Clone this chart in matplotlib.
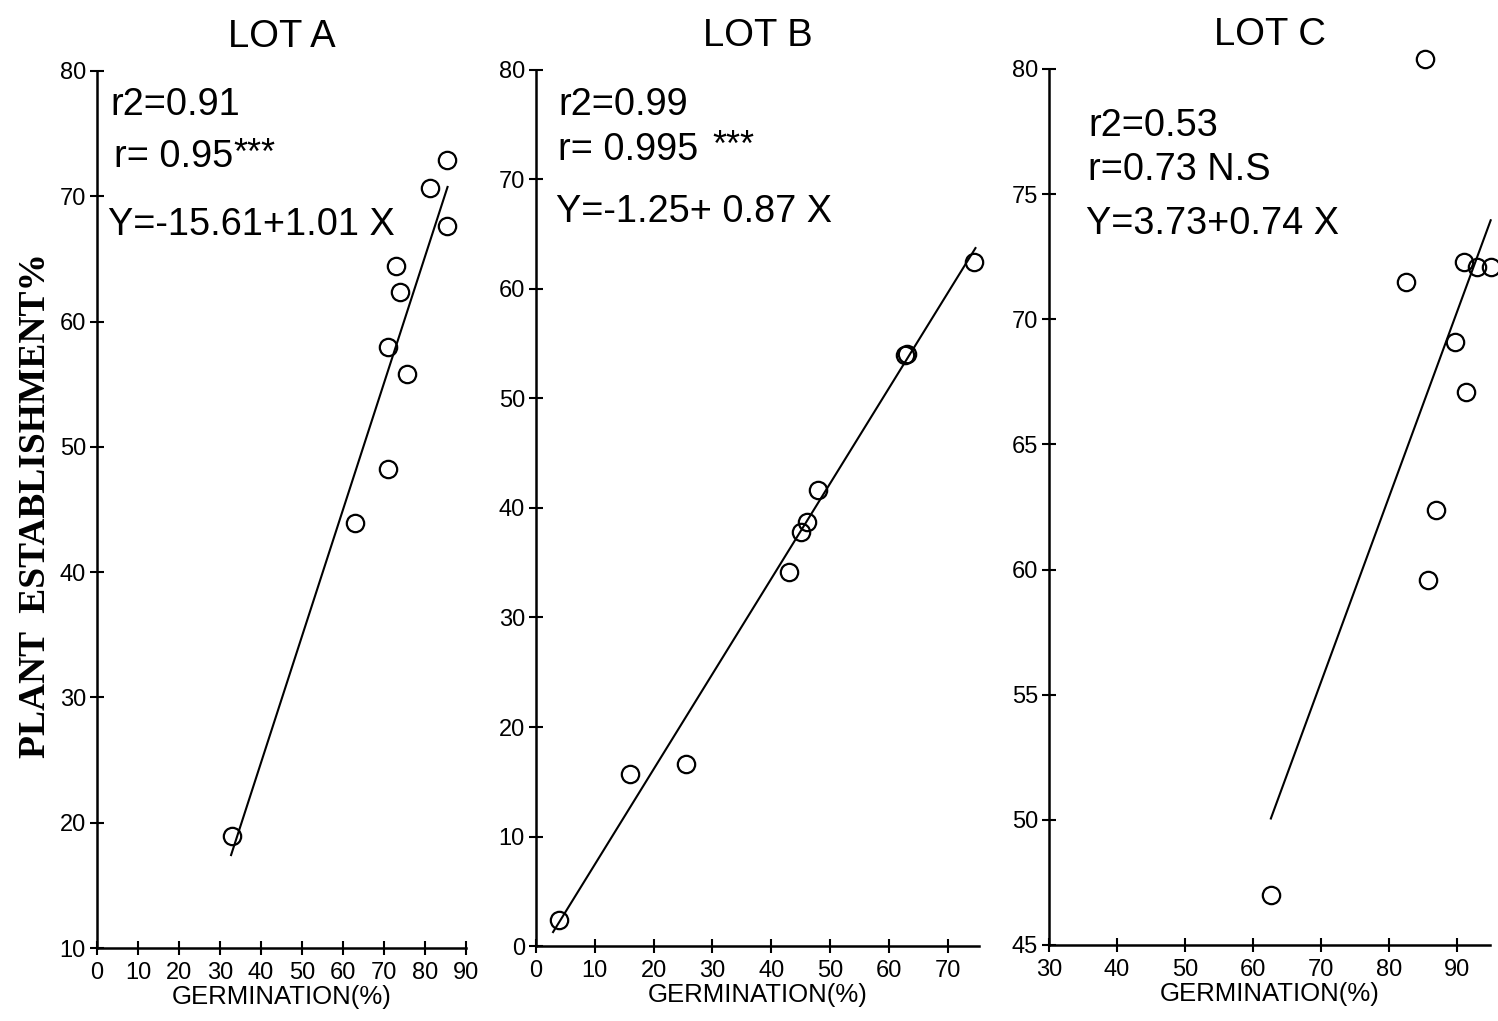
import numpy as np
import matplotlib.pyplot as plt

plt.rcParams["font.family"] = ["Liberation Sans", "DejaVu Sans"]

# Germination (%) vs plant establishment (%) for three seed lots
lot_a_germ = [32.9, 62.9, 71.0, 71.0, 75.6, 72.9, 73.9, 81.2, 85.4, 85.4]
lot_a_estab = [18.9, 43.9, 48.2, 58.0, 55.8, 64.4, 62.4, 70.7, 72.9, 67.6]

lot_b_germ = [3.9, 16.0, 25.5, 43.0, 45.1, 46.1, 48.0, 62.7, 63.0, 74.5]
lot_b_estab = [2.4, 15.7, 16.6, 34.2, 37.8, 38.7, 41.6, 54.0, 54.1, 62.5]

lot_c_germ = [85.3, 82.4, 91.0, 92.9, 94.9, 89.7, 91.3, 86.8, 85.7, 62.6]
lot_c_estab = [80.4, 71.5, 72.3, 72.1, 72.1, 69.1, 67.1, 62.4, 59.6, 47.0]

# regression coefficients (intercept, slope) and fitted x range
fits = [(-15.61, 1.01), (-1.25, 0.87), (3.73, 0.74)]
fit_ranges = [(32.7, 85.5), (2.9, 74.7), (62.6, 94.9)]

titles = ["LOT A", "LOT B", "LOT C"]
stats = [
    ["r2=0.91", "r= 0.95", "Y=-15.61+1.01 X"],
    ["r2=0.99", "r= 0.995", "Y=-1.25+ 0.87 X"],
    ["r2=0.53", "r=0.73 N.S", "Y=3.73+0.74 X"],
]
stars = ["***", "***", ""]

W, H = 1498, 1021
fig = plt.figure(figsize=(W / 100, H / 100), dpi=100)


def px(x, y):
    return x / W, 1 - y / H


boxes = [
    (97, 948, 466, 71),
    (536, 946, 979, 70),
    (1049, 945, 1490, 69),
]
xlims = [(0, 90), (0, 75.3), (30, 94.8)]
ylims = [(10, 80), (0, 80), (45, 80)]
xticks = [np.arange(0, 91, 10), np.arange(0, 71, 10), np.arange(30, 91, 10)]
yticks = [np.arange(10, 81, 10), np.arange(0, 81, 10), np.arange(45, 81, 5)]

data = [
    (lot_a_germ, lot_a_estab),
    (lot_b_germ, lot_b_estab),
    (lot_c_germ, lot_c_estab),
]

for i in range(3):
    x0, y0, x1, y1 = boxes[i]
    left, bottom = px(x0, y0)
    right, top = px(x1, y1)
    ax = fig.add_axes([left, bottom, right - left, top - bottom])

    gx, gy = data[i]
    ax.plot(gx, gy, "o", ms=12.5, mfc="none", mec="black", mew=1.6,
            clip_on=False, zorder=3)

    a, b = fits[i]
    xf = np.array(fit_ranges[i])
    ax.plot(xf, a + b * xf, color="black", lw=1.5, clip_on=False)

    ax.set_xlim(*xlims[i])
    ax.set_ylim(*ylims[i])
    ax.set_xticks(xticks[i])
    ax.set_yticks(yticks[i])
    for s in ["top", "right"]:
        ax.spines[s].set_visible(False)
    for s in ["left", "bottom"]:
        ax.spines[s].set_linewidth(1.8)
    ax.tick_params(direction="inout", length=10, width=1.5, labelsize=17,
                   pad=3)
    ax.tick_params(axis="x", pad=5)
    ax.set_xlabel("GERMINATION(%)", fontsize=18.5, labelpad=1)

    ax.set_title(titles[i], fontsize=27.5, pad=17)

# fit statistics
text_pos = [
    [(110, 105), (114, 157), (108, 225)],
    [(558, 105), (558, 150), (556, 212)],
    [(1088, 126), (1088, 170), (1086, 224)],
]
star_pos = [(233, 154), (712, 146), None]
for i in range(3):
    for j in range(3):
        fx, fy = px(*text_pos[i][j])
        fig.text(fx, fy, stats[i][j], fontsize=27.3, va="center", ha="left")
    if star_pos[i] is not None:
        fx, fy = px(*star_pos[i])
        fig.text(fx, fy, stars[i], fontsize=26, va="center", ha="left")

fx, fy = px(36, 505)
fig.text(fx, fy, "PLANT  ESTABLISHMENT%", rotation=90, fontsize=27,
         family=["Liberation Serif"], fontweight="bold",
         ha="center", va="center")

fig.savefig("out.png", dpi=100, facecolor="white")
